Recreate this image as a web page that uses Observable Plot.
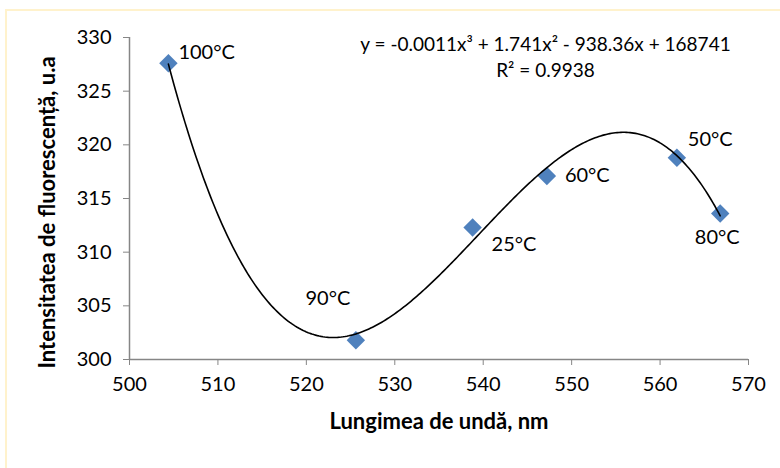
<!DOCTYPE html>
<html>
<head>
<meta charset="utf-8">
<script src="https://cdn.jsdelivr.net/npm/d3@7"></script>
<script src="https://cdn.jsdelivr.net/npm/@observablehq/plot@0.6"></script>
<style>
  html, body { margin: 0; padding: 0; background: #fff; overflow: hidden; }
  #wrap { position: relative; width: 780px; height: 468px; }
  #frame { position: absolute; left: 5px; top: 9px; width: 900px; height: 600px;
           border: 2px solid #FFF2CC; box-sizing: border-box; }
  #chart { position: absolute; left: 0; top: 0; }
  svg text { font-family: Lato, "Open Sans", sans-serif; }
</style>
</head>
<body>
<div id="wrap">
  <div id="frame"></div>
  <div id="chart"></div>
</div>
<script>
// Emission maximum (nm) and fluorescence intensity for each temperature
const wavelength = [504.4, 525.6, 538.8, 547.2, 561.9, 566.8];
const intensity  = [327.6, 301.8, 312.3, 317.1, 318.8, 313.6];
const temps      = ["100°C", "90°C", "25°C", "60°C", "50°C", "80°C"];
// label offsets (dx, dy) and anchor for each point label
const labelDx    = [10, -28, 19, 18, 11, -3];
const labelDy    = [-11, -42, 17, 0, -18, 24];
const labelAnchor = ["start", "middle", "start", "start", "start", "middle"];

const xTicks = [500, 510, 520, 530, 540, 550, 560, 570];
const yTicks = [300, 305, 310, 315, 320, 325, 330];

const equation = "y = -0.0011x³ + 1.741x² - 938.36x + 168741";
const rSquared = "R² = 0.9938";

const points = wavelength.map((x, i) => ({
  x, y: intensity[i], label: temps[i],
  dx: labelDx[i], dy: labelDy[i], anchor: labelAnchor[i]
}));

// Third-order polynomial trendline: least-squares fit of the points
function cubicFit(xs, ys, x0) {
  const n = 4;
  const A = Array.from({length: n}, () => new Array(n + 1).fill(0));
  xs.forEach((xv, k) => {
    const t = xv - x0;
    const p = [1, t, t * t, t * t * t];
    for (let i = 0; i < n; i++) {
      for (let j = 0; j < n; j++) A[i][j] += p[i] * p[j];
      A[i][n] += p[i] * ys[k];
    }
  });
  for (let c = 0; c < n; c++) {
    let piv = c;
    for (let r = c + 1; r < n; r++) if (Math.abs(A[r][c]) > Math.abs(A[piv][c])) piv = r;
    [A[c], A[piv]] = [A[piv], A[c]];
    for (let r = 0; r < n; r++) {
      if (r === c) continue;
      const f = A[r][c] / A[c][c];
      for (let k = c; k <= n; k++) A[r][k] -= f * A[c][k];
    }
  }
  const coef = A.map((row, i) => row[n] / row[i]);
  return x => { const t = x - x0; return coef[0] + coef[1]*t + coef[2]*t*t + coef[3]*t*t*t; };
}
const x0 = d3.mean(wavelength);
const trend = cubicFit(wavelength, intensity, x0);
const [xmin, xmax] = d3.extent(wavelength);
const trendLine = d3.range(0, 301).map(i => {
  const x = xmin + (xmax - xmin) * i / 300;
  return {x, y: trend(x)};
});

const axisGray = "#868686";

const chart = Plot.plot({
  width: 780,
  height: 468,
  marginLeft: 129,
  marginRight: 32,
  marginTop: 37,
  marginBottom: 109,
  style: {background: "transparent", fontFamily: "Lato, sans-serif"},
  x: {domain: [500, 570]},
  y: {domain: [300, 330]},
  marks: [
    Plot.axisX({ticks: xTicks, tickSize: 6, tickPadding: 11, stroke: axisGray, fill: "#000",
                fontSize: 20, label: null}),
    Plot.axisY({ticks: yTicks, tickSize: 6, tickPadding: 12, stroke: axisGray, fill: "#000",
                fontSize: 20, label: null}),
    Plot.ruleY([300], {stroke: axisGray, strokeWidth: 1.5}),
    Plot.ruleX([500], {stroke: axisGray, strokeWidth: 1.5}),
    Plot.dot(points, {x: "x", y: "y", symbol: "diamond2", r: 8.3, fill: "#4F81BD", stroke: "none"}),
    Plot.line(trendLine, {x: "x", y: "y", stroke: "#000", strokeWidth: 1.6, curve: "linear"}),
    ...points.map(p => Plot.text([p], {x: "x", y: "y", text: "label", dx: p.dx, dy: p.dy,
                textAnchor: p.anchor, fontSize: 20, fill: "#000"})),
    Plot.text([equation], {frameAnchor: "top-left", dx: 545 - 129, dy: 44 - 37,
                textAnchor: "middle", lineAnchor: "middle", fontSize: 19, fill: "#000"}),
    Plot.text([rSquared], {frameAnchor: "top-left", dx: 545 - 129, dy: 70 - 37,
                textAnchor: "middle", lineAnchor: "middle", fontSize: 19, fill: "#000"}),
    Plot.text(["Lungimea de undă, nm"], {frameAnchor: "bottom", dy: 421 - 359,
                lineAnchor: "middle", fontSize: 22, fontWeight: "bold", fill: "#000"}),
    Plot.text(["Intensitatea de fluorescență, u.a"], {frameAnchor: "left", dx: 47 - 129, dy: 212 - 198,
                textAnchor: "middle", lineAnchor: "middle", rotate: -90, fontSize: 22,
                fontWeight: "bold", fill: "#000"})
  ]
});
document.getElementById("chart").appendChild(chart);
</script>
</body>
</html>
